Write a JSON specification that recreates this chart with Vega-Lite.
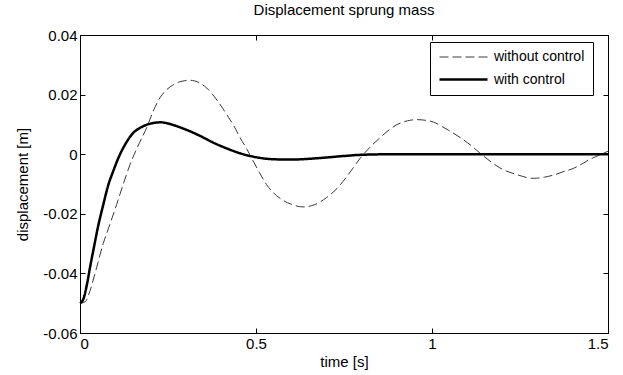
{
  "$schema": "https://vega.github.io/schema/vega-lite/v6.json",
  "width": 528,
  "height": 298,
  "autosize": {"type": "none"},
  "padding": {"left": 80, "top": 35, "right": 15, "bottom": 42},
  "background": "white",
  "title": {"text": "Displacement sprung mass", "fontSize": 15, "font": "Liberation Sans", "fontWeight": "normal", "color": "black", "offset": 10},
  "datasets": {
    "series": [
      {"t": 0, "v": -0.05, "series": "without control"},
      {"t": 0.015, "v": -0.0495, "series": "without control"},
      {"t": 0.028, "v": -0.046, "series": "without control"},
      {"t": 0.045, "v": -0.039, "series": "without control"},
      {"t": 0.066, "v": -0.03, "series": "without control"},
      {"t": 0.085, "v": -0.0235, "series": "without control"},
      {"t": 0.104, "v": -0.0169, "series": "without control"},
      {"t": 0.123, "v": -0.01, "series": "without control"},
      {"t": 0.142, "v": -0.0035, "series": "without control"},
      {"t": 0.165, "v": 0.0028, "series": "without control"},
      {"t": 0.189, "v": 0.0088, "series": "without control"},
      {"t": 0.21, "v": 0.015, "series": "without control"},
      {"t": 0.227, "v": 0.0189, "series": "without control"},
      {"t": 0.245, "v": 0.0215, "series": "without control"},
      {"t": 0.265, "v": 0.0233, "series": "without control"},
      {"t": 0.29, "v": 0.0245, "series": "without control"},
      {"t": 0.3125, "v": 0.0248, "series": "without control"},
      {"t": 0.335, "v": 0.0242, "series": "without control"},
      {"t": 0.36, "v": 0.0222, "series": "without control"},
      {"t": 0.39, "v": 0.018, "series": "without control"},
      {"t": 0.417, "v": 0.0133, "series": "without control"},
      {"t": 0.437, "v": 0.0095, "series": "without control"},
      {"t": 0.455, "v": 0.0055, "series": "without control"},
      {"t": 0.475, "v": 0.0015, "series": "without control"},
      {"t": 0.492, "v": -0.0023, "series": "without control"},
      {"t": 0.51, "v": -0.0062, "series": "without control"},
      {"t": 0.53, "v": -0.0102, "series": "without control"},
      {"t": 0.55, "v": -0.013, "series": "without control"},
      {"t": 0.568, "v": -0.0148, "series": "without control"},
      {"t": 0.6, "v": -0.0168, "series": "without control"},
      {"t": 0.634, "v": -0.0177, "series": "without control"},
      {"t": 0.665, "v": -0.017, "series": "without control"},
      {"t": 0.7, "v": -0.0146, "series": "without control"},
      {"t": 0.73, "v": -0.0115, "series": "without control"},
      {"t": 0.758, "v": -0.0075, "series": "without control"},
      {"t": 0.776, "v": -0.0046, "series": "without control"},
      {"t": 0.795, "v": -0.0015, "series": "without control"},
      {"t": 0.814, "v": 0.0011, "series": "without control"},
      {"t": 0.852, "v": 0.0055, "series": "without control"},
      {"t": 0.9, "v": 0.0099, "series": "without control"},
      {"t": 0.93, "v": 0.0112, "series": "without control"},
      {"t": 0.956, "v": 0.0116, "series": "without control"},
      {"t": 0.98, "v": 0.0114, "series": "without control"},
      {"t": 1.004, "v": 0.0108, "series": "without control"},
      {"t": 1.03, "v": 0.0092, "series": "without control"},
      {"t": 1.06, "v": 0.0071, "series": "without control"},
      {"t": 1.085, "v": 0.0052, "series": "without control"},
      {"t": 1.108, "v": 0.0032, "series": "without control"},
      {"t": 1.146, "v": -0.0006, "series": "without control"},
      {"t": 1.17, "v": -0.0028, "series": "without control"},
      {"t": 1.193, "v": -0.0046, "series": "without control"},
      {"t": 1.24, "v": -0.0068, "series": "without control"},
      {"t": 1.288, "v": -0.0081, "series": "without control"},
      {"t": 1.32, "v": -0.0077, "series": "without control"},
      {"t": 1.345, "v": -0.007, "series": "without control"},
      {"t": 1.375, "v": -0.0058, "series": "without control"},
      {"t": 1.401, "v": -0.0048, "series": "without control"},
      {"t": 1.43, "v": -0.003, "series": "without control"},
      {"t": 1.449, "v": -0.0017, "series": "without control"},
      {"t": 1.475, "v": -0.0003, "series": "without control"},
      {"t": 1.5, "v": 0.001, "series": "without control"},
      {"t": 0, "v": -0.05, "series": "with control"},
      {"t": 0.01, "v": -0.0485, "series": "with control"},
      {"t": 0.02, "v": -0.0435, "series": "with control"},
      {"t": 0.03, "v": -0.037, "series": "with control"},
      {"t": 0.04, "v": -0.031, "series": "with control"},
      {"t": 0.05, "v": -0.025, "series": "with control"},
      {"t": 0.066, "v": -0.017, "series": "with control"},
      {"t": 0.08, "v": -0.0105, "series": "with control"},
      {"t": 0.095, "v": -0.0055, "series": "with control"},
      {"t": 0.11, "v": -0.001, "series": "with control"},
      {"t": 0.133, "v": 0.0042, "series": "with control"},
      {"t": 0.15, "v": 0.007, "series": "with control"},
      {"t": 0.17, "v": 0.0088, "series": "with control"},
      {"t": 0.19, "v": 0.0099, "series": "with control"},
      {"t": 0.21, "v": 0.0105, "series": "with control"},
      {"t": 0.23, "v": 0.0107, "series": "with control"},
      {"t": 0.25, "v": 0.0103, "series": "with control"},
      {"t": 0.275, "v": 0.0094, "series": "with control"},
      {"t": 0.3, "v": 0.0083, "series": "with control"},
      {"t": 0.34, "v": 0.0062, "series": "with control"},
      {"t": 0.38, "v": 0.0038, "series": "with control"},
      {"t": 0.42, "v": 0.0018, "series": "with control"},
      {"t": 0.455, "v": 0.0003, "series": "with control"},
      {"t": 0.5, "v": -0.001, "series": "with control"},
      {"t": 0.55, "v": -0.0017, "series": "with control"},
      {"t": 0.6, "v": -0.0018, "series": "with control"},
      {"t": 0.68, "v": -0.0013, "series": "with control"},
      {"t": 0.75, "v": -0.0006, "series": "with control"},
      {"t": 0.8, "v": -0.0002, "series": "with control"},
      {"t": 0.9, "v": 0, "series": "with control"},
      {"t": 1.0, "v": 0, "series": "with control"},
      {"t": 1.2, "v": 0, "series": "with control"},
      {"t": 1.5, "v": 0, "series": "with control"}
    ]
  },
  "data": {"name": "series"},
  "layer": [
    {
      "mark": {"type": "line", "interpolate": "monotone"},
      "encoding": {
        "x": {"field": "t", "type": "quantitative", "scale": {"domain": [0, 1.5], "nice": false, "zero": false},
          "axis": {"title": "time [s]", "values": [0, 0.5, 1, 1.5], "labelExpr": "toString(datum.value)", "orient": "bottom"}},
        "y": {"field": "v", "type": "quantitative", "scale": {"domain": [-0.06, 0.04], "nice": false, "zero": false},
          "axis": {"title": "displacement [m]", "values": [-0.06, -0.04, -0.02, 0, 0.02, 0.04], "labelExpr": "toString(datum.value)", "orient": "left"}},
        "color": {"field": "series", "type": "nominal", "sort": ["without control", "with control"],
          "scale": {"domain": ["without control", "with control"], "range": ["#3a3a3a", "#000000"]},
          "legend": {"title": null}},
        "strokeDash": {"field": "series", "type": "nominal", "sort": ["without control", "with control"],
          "scale": {"domain": ["without control", "with control"], "range": [[9, 4], [1, 0]]},
          "legend": {"title": null}},
        "strokeWidth": {"field": "series", "type": "nominal", "sort": ["without control", "with control"],
          "scale": {"domain": ["without control", "with control"], "range": [1, 2.5]},
          "legend": {"title": null}}
      }
    },
    {
      "mark": {"type": "line", "opacity": 0},
      "encoding": {
        "x": {"field": "t", "type": "quantitative",
          "axis": {"orient": "top", "title": null, "labels": false, "values": [0, 0.5, 1, 1.5]}},
        "y": {"field": "v", "type": "quantitative",
          "axis": {"orient": "right", "title": null, "labels": false, "values": [-0.06, -0.04, -0.02, 0, 0.02, 0.04]}},
        "detail": {"field": "series"}
      }
    }
  ],
  "resolve": {"axis": {"x": "independent", "y": "independent"}},
  "config": {
    "font": "Liberation Sans",
    "view": {"stroke": "black", "strokeWidth": 1},
    "axis": {
      "grid": false,
      "domainColor": "black",
      "tickColor": "black",
      "tickSize": -5,
      "labelColor": "black",
      "labelFont": "Liberation Sans",
      "labelFontSize": 15,
      "labelPadding": 8,
      "titleFont": "Liberation Sans",
      "titleFontSize": 15,
      "titleFontWeight": "normal",
      "titleColor": "black"
    },
    "axisX": {"titlePadding": 3},
    "axisY": {"titlePadding": 12},
    "legend": {
      "orient": "none",
      "legendX": 350,
      "legendY": 7,
      "symbolType": "M-1,0H7",
      "symbolSize": 144,
      "labelFont": "Liberation Sans",
      "labelFontSize": 14,
      "labelColor": "black",
      "labelOffset": 41,
      "labelExpr": "datum.label + '\u00a0\u00a0\u00a0\u00a0\u00a0'",
      "rowPadding": 8,
      "padding": 8,
      "strokeColor": "black",
      "fillColor": "white",
      "cornerRadius": 0
    }
  }
}
